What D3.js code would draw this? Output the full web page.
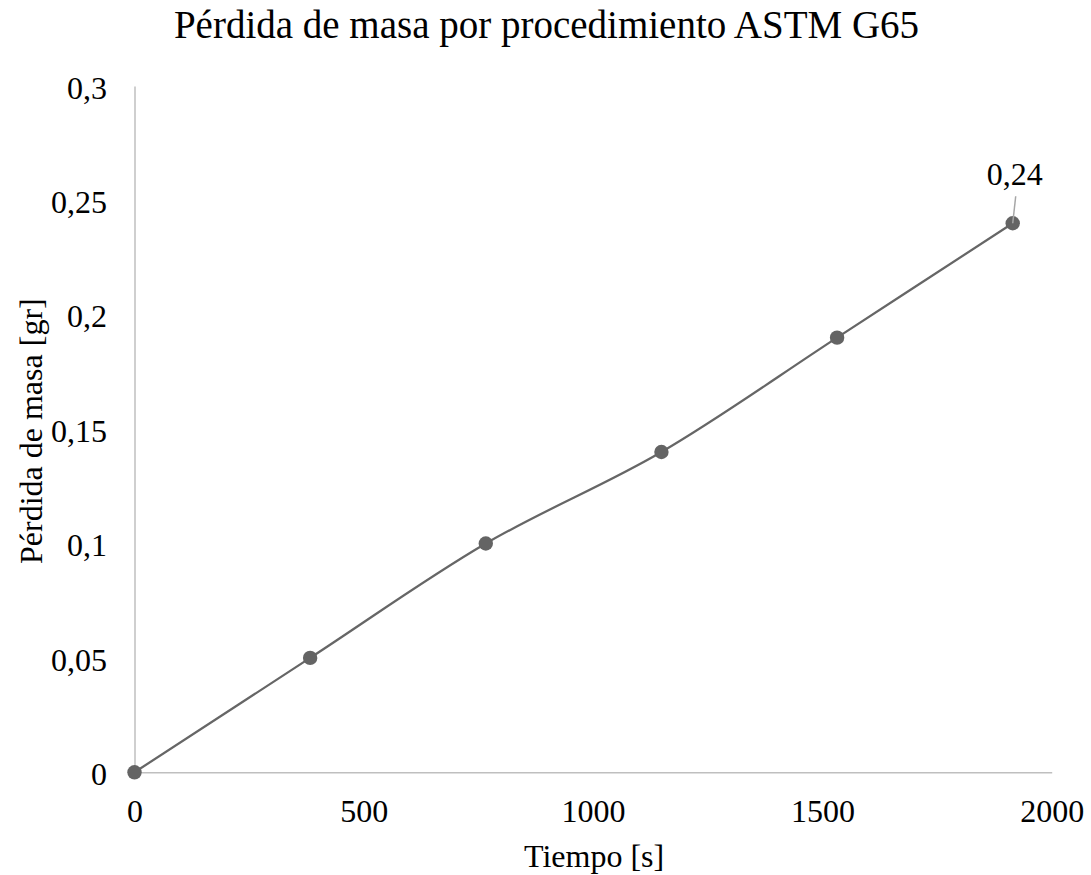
<!DOCTYPE html>
<html>
<head>
<meta charset="utf-8">
<script src="https://cdn.jsdelivr.net/npm/d3@7"></script>
<style>
  html, body { margin: 0; padding: 0; background: #fff; }
  svg { display: block; font-family: "Liberation Serif", "Times New Roman", serif; }
</style>
</head>
<body>
<svg id="chart" width="1091" height="875"></svg>
<script>
const title = "Pérdida de masa por procedimiento ASTM G65";
const xTitle = "Tiempo [s]";
const yTitle = "Pérdida de masa [gr]";
const times = [0, 383, 766, 1149, 1532, 1915];
const masses = [0, 0.05, 0.10, 0.14, 0.19, 0.24];
const xTicks = [0, 500, 1000, 1500, 2000];
const yTicks = [0, 0.05, 0.1, 0.15, 0.2, 0.25, 0.3];
const labelIndex = 5;

(function () {
const W = 1091, H = 875;
const mLeft = 134.5, mRight = 1051.7, mTop = 86, mBottom = 772.3;
const svg = d3.select("#chart");
const FS = 32;

const x = d3.scaleLinear().domain([0, 2000]).range([mLeft, mRight]);
const y = d3.scaleLinear().domain([0, 0.3]).range([mBottom, mTop]);
const fmt = v => String(v).replace(".", ",");

// x axis
const xAxis = svg.append("g").attr("transform", `translate(0,${mBottom})`)
  .call(d3.axisBottom(x).tickValues(xTicks).tickSize(0).tickPadding(27).tickFormat(d => d));
xAxis.attr("font-family", null).attr("font-size", null);
xAxis.select(".domain").attr("stroke", "#bfbfbf").attr("stroke-width", 1.5);
xAxis.selectAll("text").attr("font-size", FS).attr("fill", "#000")
  .attr("font-family", "Liberation Serif");

// y axis
const yAxis = svg.append("g").attr("transform", `translate(${mLeft},0)`)
  .call(d3.axisLeft(y).tickValues(yTicks).tickSize(0).tickPadding(27.5).tickFormat(fmt));
yAxis.attr("font-family", null).attr("font-size", null);
yAxis.select(".domain").attr("stroke", "#bfbfbf").attr("stroke-width", 1.5);
yAxis.selectAll("text").attr("font-size", FS).attr("fill", "#000").attr("dy", "0.38em")
  .attr("font-family", "Liberation Serif");

// line
const data = times.map((t, i) => ({t, m: masses[i]}));
const line = d3.line().x(d => x(d.t)).y(d => y(d.m)).curve(d3.curveCatmullRom.alpha(0.5));
svg.append("path").datum(data).attr("d", line)
  .attr("fill", "none").attr("stroke", "#666666").attr("stroke-width", 2.25);

svg.selectAll("circle.pt").data(data).join("circle").attr("class", "pt")
  .attr("cx", d => x(d.t)).attr("cy", d => y(d.m)).attr("r", 7.2)
  .attr("fill", "#646464");

// data label
const ld = data[labelIndex];
svg.append("line")
  .attr("x1", x(ld.t) + 3).attr("y1", y(ld.m) - 27)
  .attr("x2", x(ld.t)).attr("y2", y(ld.m))
  .attr("stroke", "#a6a6a6").attr("stroke-width", 1.5);
svg.append("text").attr("x", x(ld.t) + 2).attr("y", y(ld.m) - 38)
  .attr("text-anchor", "middle").attr("font-size", FS).attr("fill", "#000")
  .text(fmt(ld.m));

// titles
svg.append("text").attr("x", W / 2 + 1).attr("y", 38)
  .attr("text-anchor", "middle").attr("font-size", 39).attr("fill", "#000").text(title);
svg.append("text").attr("x", (mLeft + mRight) / 2 + 1).attr("y", 867)
  .attr("text-anchor", "middle").attr("font-size", FS).attr("fill", "#000").text(xTitle);
svg.append("text").attr("transform", `translate(42,${(mTop + mBottom) / 2 + 2}) rotate(-90)`)
  .attr("text-anchor", "middle").attr("font-size", FS).attr("fill", "#000").text(yTitle);
})();
</script>
</body>
</html>
